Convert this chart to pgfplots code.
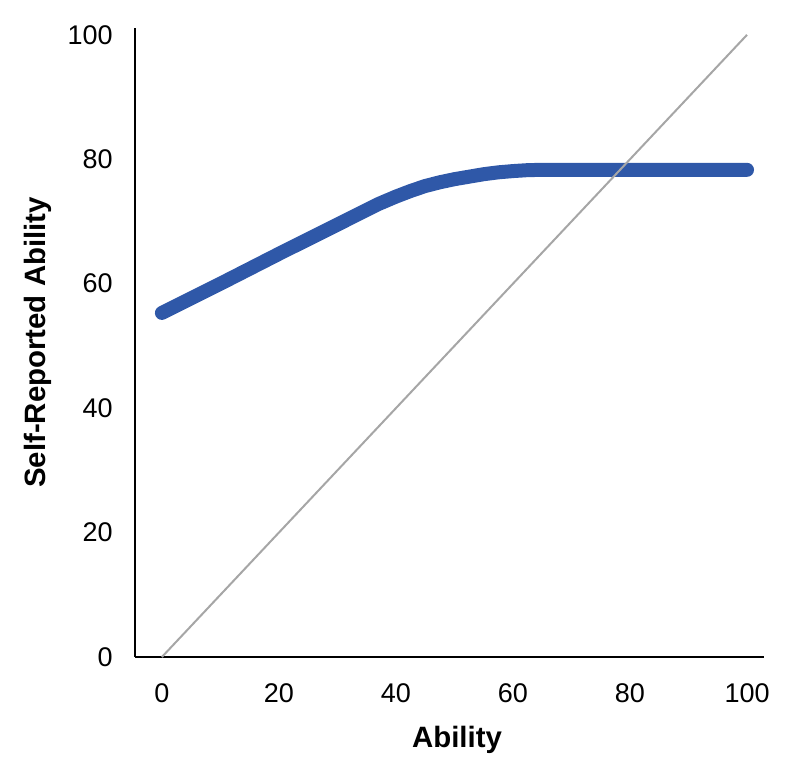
\documentclass[border=0pt]{standalone}
\usepackage{pgfplots}
\pgfplotsset{compat=1.18}
\usepackage{fontspec}
\setmainfont{Liberation Sans}
\definecolor{lineblue}{RGB}{47,88,168}
\definecolor{refgray}{RGB}{166,166,166}
\begin{document}
\begin{tikzpicture}
\begin{axis}[
  scale only axis,
  width=314.5pt, height=314.5pt,
  xmin=-4.6, xmax=102.9,
  ymin=0, ymax=101.1,
  axis x line=bottom, axis y line=left,
  axis line style={-, line width=1pt, black},
  xtick={0,20,40,60,80,100},
  ytick={0,20,40,60,80,100},
  major tick length=0pt,
  tick label style={font=\fontsize{13.5}{15}\selectfont},
  /pgf/number format/assume math mode=true,
  xticklabel style={anchor=north, inner sep=0pt, yshift=-13pt},
  yticklabel style={anchor=east, inner sep=0pt, xshift=-11pt},
  xlabel={Ability},
  ylabel={Self-Reported Ability},
  x label style={at={(axis description cs:0.512,0)}, anchor=north, inner sep=0pt, yshift=-34.5pt, font=\fontsize{14.7}{17}\selectfont\bfseries},
  y label style={at={(axis description cs:0,0.5)}, anchor=center, inner sep=0pt, yshift=48.5pt, font=\fontsize{14.7}{17}\selectfont\bfseries},
  clip=false,
]
\addplot[lineblue, line width=7pt, line cap=round, line join=round] coordinates {
(0,55.3) (10,60.0) (20,64.8) (30,69.5) (37,72.8) (40,74.0) (42.5,74.9) (45,75.7) (47.5,76.3) (50,76.8) (52.5,77.2) (55,77.6) (57.5,77.9) (60,78.1) (62.5,78.25) (65,78.3) (100,78.3)
};
\addplot[refgray, line width=1pt] coordinates {(0,0) (100,100)};
\end{axis}
\path (-67.5pt,-53pt) rectangle (332.5pt,328.5pt);
\end{tikzpicture}
\end{document}
